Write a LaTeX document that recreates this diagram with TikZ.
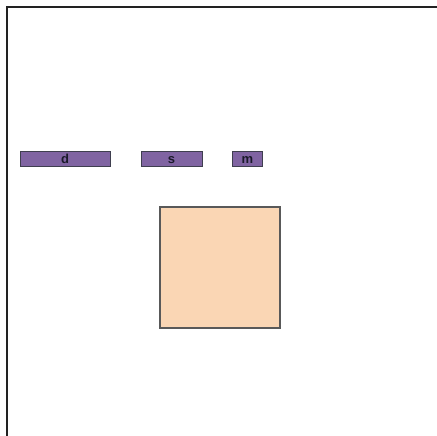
\documentclass[tikz,border=0pt]{standalone}
\usepackage{fontspec}
\setmainfont{Liberation Sans}
\definecolor{barpurple}{HTML}{8064A2}
\definecolor{barborder}{HTML}{3F3F4F}
\definecolor{peach}{HTML}{FAD6B4}
\definecolor{peachborder}{HTML}{595959}
\definecolor{frameline}{HTML}{222222}
\definecolor{bartext}{HTML}{1A1A2A}
\tikzset{
  bar/.style={draw=barborder, fill=barpurple, line width=1pt, inner sep=0pt,
    text height=9.5pt, text depth=0pt,
    font=\bfseries\fontsize{13}{13}\selectfont, text=bartext},
  bigbox/.style={draw=peachborder, fill=peach, line width=1.1pt},
  frameln/.style={draw=frameline, line width=1.5pt}
}
\begin{document}
\begin{tikzpicture}[x=1pt,y=-1pt]
\useasboundingbox (0,0) rectangle (437,436);
\coordinate (tl) at (7,7);
\coordinate (tr) at (437,7);
\coordinate (bl) at (7,436);
\draw[frameln] (tr) -- (tl) -- (bl);
\node[bar, minimum width=90pt, minimum height=15pt] (d) at (65,158.5) {d};
\node[bar, minimum width=61pt, minimum height=15pt] (s) at (171.5,158.5) {s};
\node[bar, minimum width=30pt, minimum height=15pt] (m) at (247.5,158.5) {m};
\node[bigbox, minimum width=120pt, minimum height=121pt] (sq) at (220,267.5) {};
\end{tikzpicture}
\end{document}
